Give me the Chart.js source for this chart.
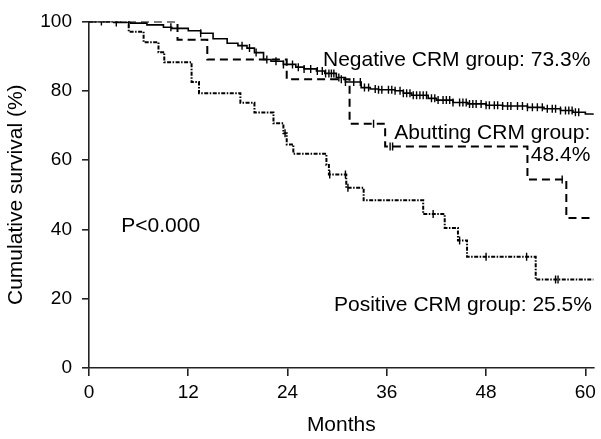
<!DOCTYPE html>
<html>
<head>
<meta charset="utf-8">
<script src="https://cdn.jsdelivr.net/npm/chart.js@4.4.1/dist/chart.umd.min.js"></script>
<style>
  html, body { margin: 0; padding: 0; background: #fff; }
  #wrap { width: 601px; height: 439px; }
</style>
</head>
<body>
<div id="wrap"><canvas id="myChart" width="601" height="439"></canvas></div>
<script>
// Eixos
const xTicks = [0, 12, 24, 36, 48, 60];
const yTicks = [0, 20, 40, 60, 80, 100];

// Curvas de Kaplan-Meier: [mês, sobrevida %] (degraus)
const negativeCurve = [
  [0, 100], [2, 100], [3, 99.7], [5, 99.5], [7, 99], [9, 98.3], [10, 98], [12, 97.3],
  [13.5, 96.6], [15, 95], [16.7, 93.7], [18, 93], [19.1, 92.3], [20, 91], [21.1, 89.0],
  [22, 88.5], [23.5, 87.6], [25, 86.8], [26, 86.3], [27.5, 85.7], [28.5, 85], [29.9, 83.8],
  [31, 82.5], [32.9, 80.9], [34, 80.5], [35, 80.3], [37, 80.0], [38, 79.3], [39, 78.7],
  [41, 77.8], [42, 77.3], [44, 76.6], [45.8, 76.2], [48, 75.8], [50, 75.6], [53, 75.2],
  [55, 74.8], [57, 74.3], [58.5, 73.8], [60, 73.3], [61, 73.0]
];
const abuttingCurve = [
  [0, 100], [10.7, 94.7], [14.3, 89.0], [23.9, 83.3], [31.5, 70.5], [35.8, 63.9],
  [53.0, 54.4], [57.7, 43.3], [61, 43.3]
];
const positiveCurve = [
  [0, 100], [4.8, 97.0], [6.6, 94.0], [8.4, 91.1], [9.1, 88.2], [12.4, 82.5], [13.3, 79.3],
  [18.3, 76.5], [20.0, 73.7], [22.3, 70.6], [23.5, 67.7], [23.9, 64.5], [24.7, 61.8],
  [28.7, 58.6], [29.0, 55.8], [31.1, 52.0], [33.2, 48.4], [40.4, 44.4], [43.0, 40.4],
  [44.6, 36.8], [45.7, 32.1], [54.0, 25.5], [61, 25.5]
];

// Casos censurados (meses)
const negativeCensored = [
  1.5, 3.3, 4.8, 9.9, 13.5, 18.5, 19.4, 20.2, 21.5, 22.6, 23.5, 24.6, 25.3, 26.0, 26.8,
  27.6, 28.2, 28.6, 29.0, 29.3, 29.6, 30.2, 31.0, 32.0, 32.8, 33.3, 33.8, 34.6, 35.0,
  35.4, 36.2, 36.6, 37.0, 37.6, 38.0, 38.4, 38.8, 39.2, 39.6, 40.0, 40.4, 40.8, 41.4,
  41.8, 42.2, 42.8, 43.2, 43.6, 44.0, 44.8, 45.2, 45.6, 46.0, 46.4, 46.8, 47.4, 48.0,
  48.4, 49.0, 49.4, 50.0, 50.6, 51.0, 51.8, 52.4, 53.0, 53.6, 54.2, 54.8, 55.4, 56.0,
  56.4, 57.0, 57.6, 58.0, 58.4, 58.8, 59.2
];
const abuttingCensored = [30.5, 34.4, 36.4, 36.7, 57.2];
const positiveCensored = [23.7, 29.1, 31.0, 31.3, 41.6, 44.8, 48.0, 52.9, 56.4, 56.7];

// Textos
const groupLabels = ['Negative CRM group: 73.3%', 'Abutting CRM group:', '48.4%', 'Positive CRM group: 25.5%'];
const pLabel = 'P<0.000';

const FONT = 'Arial, "Liberation Sans", Helvetica, sans-serif';
const INK = '#000';

function toPoints(curve) {
    return curve.map(p => ({ x: p[0], y: p[1] }));
}

// valor da curva no mês t (função degrau)
function valueAt(curve, t) {
    let v = curve[0][1];
    for (const p of curve) {
        if (p[0] <= t) v = p[1];
    }
    return v;
}

function censorPoints(curve, months) {
    return months.map(t => ({ x: t, y: valueAt(curve, t) }));
}

function curveDataset(curve, dash, width) {
    return {
        type: 'line',
        data: toPoints(curve),
        stepped: true,
        borderColor: INK,
        borderWidth: width,
        borderDash: dash,
        pointRadius: 0,
        fill: false
    };
}

function censorDataset(curve, months) {
    return {
        type: 'scatter',
        data: censorPoints(curve, months),
        showLine: false,
        pointStyle: 'line',
        rotation: 90,
        pointRadius: 4,
        borderColor: INK,
        borderWidth: 1.4
    };
}

// posições dos textos (em coordenadas dos dados)
const notes = [
    { text: groupLabels[0], x: 60.6, y: 87.0, align: 'right' },
    { text: groupLabels[1], x: 60.6, y: 66.2, align: 'right' },
    { text: groupLabels[2], x: 60.6, y: 59.6, align: 'right' },
    { text: groupLabels[3], x: 60.8, y: 16.4, align: 'right' },
    { text: pLabel, x: 3.9, y: 39.2, align: 'left' }
];

const notesPlugin = {
    id: 'notes',
    afterDraw(chart) {
        const { ctx, scales } = chart;
        ctx.save();
        ctx.fillStyle = INK;
        ctx.font = '21px ' + FONT;
        ctx.textBaseline = 'alphabetic';
        notes.forEach(n => {
            ctx.textAlign = n.align;
            ctx.fillText(n.text, scales.x.getPixelForValue(n.x), scales.y.getPixelForValue(n.y));
        });
        ctx.restore();
    }
};

const ctx = document.getElementById('myChart').getContext('2d');
const myChart = new Chart(ctx, {
    data: {
        datasets: [
            curveDataset(negativeCurve, [], 1.6),
            curveDataset(abuttingCurve, [8, 5], 2),
            curveDataset(positiveCurve, [4, 1.5, 1.5, 1.5], 2),
            censorDataset(negativeCurve, negativeCensored),
            censorDataset(abuttingCurve, abuttingCensored),
            censorDataset(positiveCurve, positiveCensored)
        ]
    },
    options: {
        responsive: false,
        animation: false,
        layout: {
            padding: { top: 16, right: 4, bottom: 0, left: 0 }
        },
        plugins: {
            legend: { display: false },
            tooltip: { enabled: false }
        },
        scales: {
            x: {
                type: 'linear',
                min: 0,
                max: 61,
                afterBuildTicks: (s) => { s.ticks = xTicks.map(v => ({ value: v })); },
                afterFit: (s) => { s.height = 71; },
                ticks: {
                    color: INK,
                    font: { family: FONT, size: 19 },
                    padding: 5,
                    maxRotation: 0,
                    autoSkip: false
                },
                grid: {
                    drawOnChartArea: false,
                    tickLength: 8,
                    color: '#222',
                    lineWidth: 1.6
                },
                border: { display: true, color: '#222', width: 1.6 },
                title: {
                    display: true,
                    text: 'Months',
                    color: INK,
                    font: { family: FONT, size: 21 },
                    padding: { top: 0, bottom: 1 }
                }
            },
            y: {
                type: 'linear',
                min: 0,
                max: 100,
                afterBuildTicks: (s) => { s.ticks = yTicks.map(v => ({ value: v })); },
                afterFit: (s) => { s.width = 89; },
                ticks: {
                    color: INK,
                    font: { family: FONT, size: 19 },
                    padding: 10
                },
                grid: {
                    drawOnChartArea: false,
                    tickLength: 7,
                    color: '#222',
                    lineWidth: 1.6
                },
                border: { display: true, color: '#222', width: 1.6 },
                title: {
                    display: true,
                    text: 'Cumulative survival (%)',
                    color: INK,
                    font: { family: FONT, size: 21 },
                    padding: { top: 4, bottom: 0 }
                }
            }
        }
    },
    plugins: [notesPlugin]
});
</script>
</body>
</html>
